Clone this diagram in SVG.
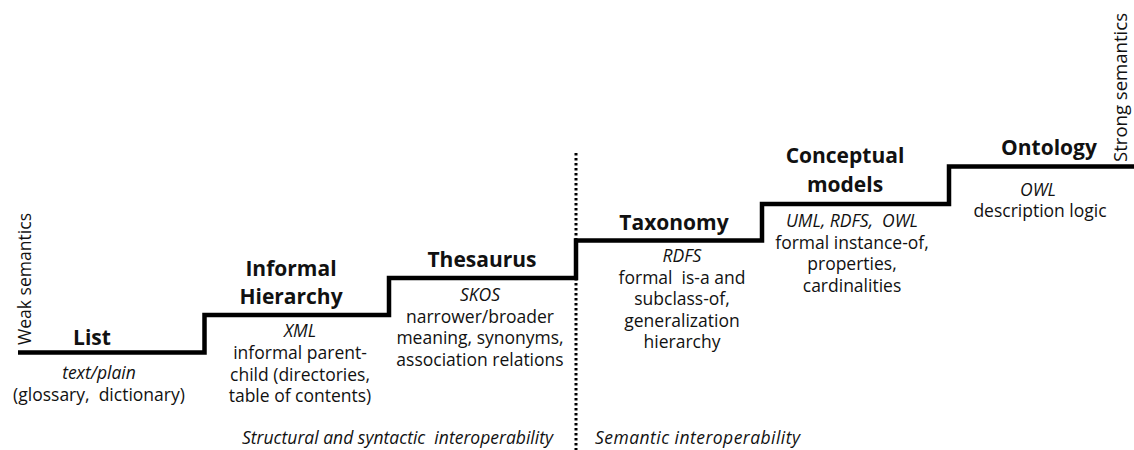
<svg xmlns="http://www.w3.org/2000/svg" width="1134" height="450" viewBox="0 0 1134 450">
  <style>
    text { font-family: "Open Sans", "Noto Sans", "Liberation Sans", sans-serif; fill: #111; white-space: pre; }
    .title { font-size: 21px; font-weight: bold; text-anchor: middle; }
    .desc { font-size: 17.5px; text-anchor: middle; }
    .std { font-style: italic; }
    .axis { font-size: 17.5px; }
    .zone { font-size: 17.5px; font-style: italic; }
    .stair { fill: none; stroke: #000; stroke-width: 4.5; stroke-linejoin: miter; }
    .divider { stroke: #000; stroke-width: 3; stroke-dasharray: 2.5 2.5; }
  </style>

  <!-- staircase and divider -->
  <g id="connectors">
    <path class="stair" d="M18,352.5 H204.5 V315 H389 V278 H576 V240.5 H762 V204 H949 V166.5 H1134"/>
    <line class="divider" x1="576" y1="153" x2="576" y2="450"/>
  </g>

  <!-- axis labels -->
  <g id="axis-weak">
    <text class="axis" transform="translate(31,345) rotate(-90)" textLength="132" lengthAdjust="spacingAndGlyphs">Weak semantics</text>
  </g>
  <g id="axis-strong">
    <text class="axis" transform="translate(1127,162) rotate(-90)" textLength="149" lengthAdjust="spacingAndGlyphs">Strong semantics</text>
  </g>

  <!-- steps -->
  <g id="list">
    <text class="title" x="92" y="345">List</text>
    <text class="desc std" x="99" y="379">text/plain</text>
    <text class="desc" x="99" y="401" xml:space="preserve">(glossary,  dictionary)</text>
  </g>

  <g id="informal-hierarchy">
    <text class="title" x="291" y="276">Informal</text>
    <text class="title" x="291" y="304">Hierarchy</text>
    <text class="desc std" x="300" y="337">XML</text>
    <text class="desc" x="300" y="359">informal parent-</text>
    <text class="desc" x="300" y="380.5">child (directories,</text>
    <text class="desc" x="300" y="402">table of contents)</text>
  </g>

  <g id="thesaurus">
    <text class="title" x="482" y="267">Thesaurus</text>
    <text class="desc std" x="480" y="301">SKOS</text>
    <text class="desc" x="480" y="322.5">narrower/broader</text>
    <text class="desc" x="480" y="344">meaning, synonyms,</text>
    <text class="desc" x="480" y="365.5">association relations</text>
  </g>

  <g id="taxonomy">
    <text class="title" x="674" y="230">Taxonomy</text>
    <text class="desc std" x="682" y="262">RDFS</text>
    <text class="desc" x="682" y="283.5" xml:space="preserve">formal  is-a and</text>
    <text class="desc" x="682" y="305">subclass-of,</text>
    <text class="desc" x="682" y="326.5">generalization</text>
    <text class="desc" x="682" y="348">hierarchy</text>
  </g>

  <g id="conceptual-models">
    <text class="title" x="845" y="163">Conceptual</text>
    <text class="title" x="845" y="192">models</text>
    <text class="desc std" x="852" y="227" xml:space="preserve">UML, RDFS,  OWL</text>
    <text class="desc" x="852" y="248.5">formal instance-of,</text>
    <text class="desc" x="852" y="270">properties,</text>
    <text class="desc" x="852" y="291.5">cardinalities</text>
  </g>

  <g id="ontology">
    <text class="title" x="1049" y="155">Ontology</text>
    <text class="desc std" x="1038" y="196">OWL</text>
    <text class="desc" x="1040" y="217">description logic</text>
  </g>

  <!-- interoperability zones -->
  <g id="zone-structural">
    <text class="zone" x="242" y="444" textLength="311" lengthAdjust="spacing" xml:space="preserve">Structural and syntactic  interoperability</text>
  </g>
  <g id="zone-semantic">
    <text class="zone" x="595" y="444" textLength="205" lengthAdjust="spacing">Semantic interoperability</text>
  </g>
</svg>
